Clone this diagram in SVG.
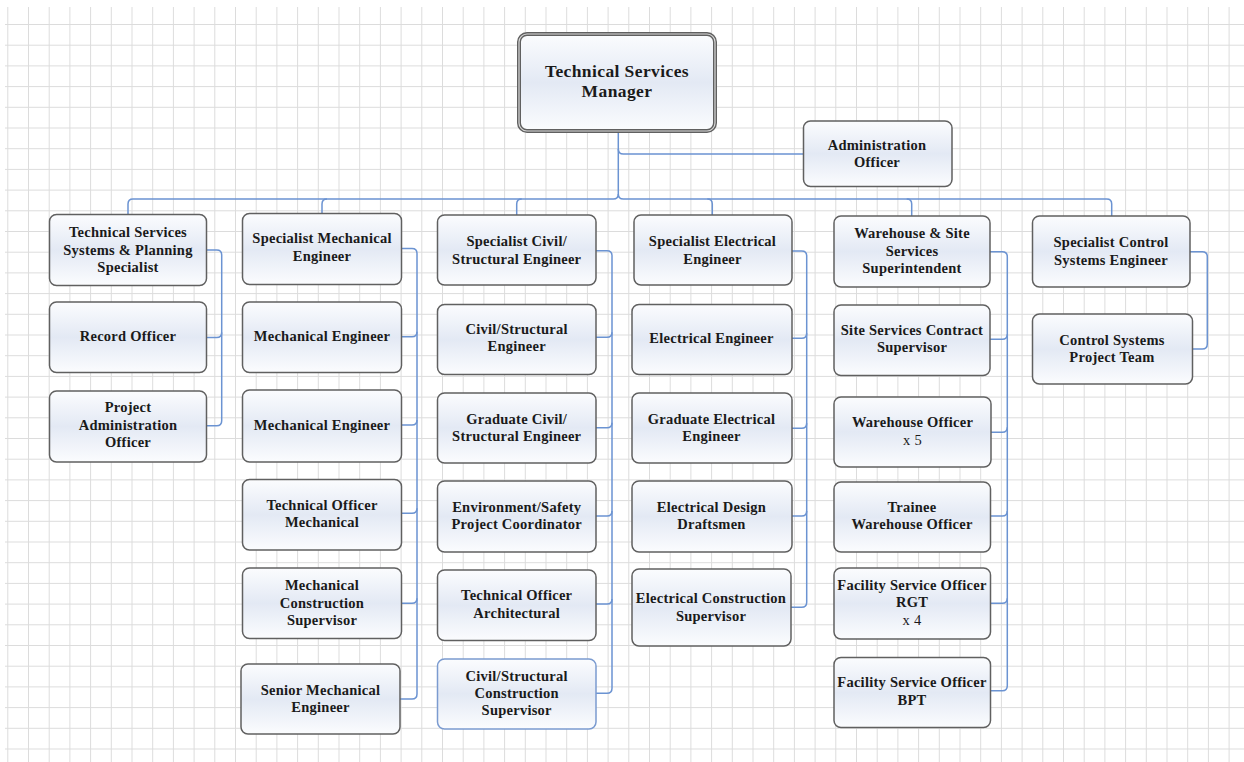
<svg xmlns="http://www.w3.org/2000/svg" width="1244" height="762" viewBox="0 0 1244 762">
<defs>
<pattern id="grid" patternUnits="userSpaceOnUse" x="7.3" y="24" width="20.7" height="20.7">
<path d="M0.5,0 V20.7 M0,0.5 H20.7" stroke="#dcdcdc" stroke-width="1" fill="none"/>
</pattern>
<linearGradient id="g" x1="0" y1="0" x2="0" y2="1">
<stop offset="0" stop-color="#fbfcfe"/>
<stop offset="0.5" stop-color="#e3e9f4"/>
<stop offset="1" stop-color="#fbfcfe"/>
</linearGradient>
<style>
.box{fill:url(#g);stroke:#606060;stroke-width:1.5}
.blue{stroke:#7b9bd0}
.c{fill:none;stroke:#6b93d2;stroke-width:1.5}
.t{font-family:"Liberation Serif","Times New Roman",serif;font-weight:bold;font-size:14.5px;letter-spacing:0.25px;text-anchor:middle;fill:#1a1a1a}
.n{font-weight:normal}
.big{font-size:17.5px;letter-spacing:0.4px}
</style>
</defs>
<rect x="0" y="0" width="1244" height="762" fill="#ffffff"/>
<rect x="5" y="7" width="1239" height="755" fill="url(#grid)"/>

<g id="connectors">
<path class="c" d="M618.3,132 V194 Q618.3,199 613.3,199 H133 Q128,199 128,204 V214.5"/>
<path class="c" d="M618.3,194 Q618.3,199 623.3,199 H1106.7 Q1111.7,199 1111.7,204 V216"/>
<path class="c" d="M327,199 Q322,199 322,204 V213.5"/>
<path class="c" d="M521.7,199 Q516.7,199 516.7,204 V215"/>
<path class="c" d="M707.3,199 Q712.3,199 712.3,204 V215"/>
<path class="c" d="M906.7,199 Q911.7,199 911.7,204 V216"/>
<path class="c" d="M618.3,149 Q618.3,154 623.3,154 H803.5"/>

<path class="c" d="M206.5,250 H216.7 Q221.7,250 221.7,255 V420.7 Q221.7,425.7 216.7,425.7 H206.5"/>
<path class="c" d="M221.7,332.5 Q221.7,337.5 216.7,337.5 H206.5"/>

<path class="c" d="M401.5,248.5 H412 Q417,248.5 417,253.5 V694 Q417,699 412,699 H400"/>
<path class="c" d="M417,331.7 Q417,336.7 412,336.7 H401.5"/>
<path class="c" d="M417,420 Q417,425 412,425 H401.5"/>
<path class="c" d="M417,508.3 Q417,513.3 412,513.3 H401.5"/>
<path class="c" d="M417,598.3 Q417,603.3 412,603.3 H401.5"/>

<path class="c" d="M596,250.7 H607 Q612,250.7 612,255.7 V688.3 Q612,693.3 607,693.3 H596"/>
<path class="c" d="M612,332.3 Q612,337.3 607,337.3 H596"/>
<path class="c" d="M612,422.7 Q612,427.7 607,427.7 H596"/>
<path class="c" d="M612,511 Q612,516 607,516 H596"/>
<path class="c" d="M612,599 Q612,604 607,604 H596"/>

<path class="c" d="M792,251 H801.7 Q806.7,251 806.7,256 V602.3 Q806.7,607.3 801.7,607.3 H791"/>
<path class="c" d="M806.7,333.3 Q806.7,338.3 801.7,338.3 H792"/>
<path class="c" d="M806.7,423.3 Q806.7,428.3 801.7,428.3 H792"/>
<path class="c" d="M806.7,511 Q806.7,516 801.7,516 H792"/>

<path class="c" d="M990,251.7 H1002.3 Q1007.3,251.7 1007.3,256.7 V685.7 Q1007.3,690.7 1002.3,690.7 H990.5"/>
<path class="c" d="M1007.3,334.3 Q1007.3,339.3 1002.3,339.3 H990"/>
<path class="c" d="M1007.3,427.3 Q1007.3,432.3 1002.3,432.3 H991"/>
<path class="c" d="M1007.3,511 Q1007.3,516 1002.3,516 H990.5"/>
<path class="c" d="M1007.3,598.3 Q1007.3,603.3 1002.3,603.3 H990.5"/>

<path class="c" d="M1190,251.7 H1202.3 Q1207.3,251.7 1207.3,256.7 V344 Q1207.3,349 1202.3,349 H1192.5"/>
</g>

<g id="manager">
<rect x="519" y="34" width="196" height="97" rx="8" fill="url(#g)" stroke="#606060" stroke-width="4"/>
<rect x="519" y="34" width="196" height="97" rx="8" fill="none" stroke="#d8d8d8" stroke-width="1.2"/>
<text class="t big" x="617" y="77.3">Technical Services</text>
<text class="t big" x="617" y="97.3">Manager</text>
</g>
<g id="admin">
<rect class="box" x="803.5" y="121" width="148.5" height="65.5" rx="7"/>
<text class="t" x="877" y="150">Administration</text>
<text class="t" x="877" y="167">Officer</text>
</g>

<g id="tssps">
<rect class="box" x="49.5" y="214.5" width="157" height="71" rx="7"/>
<text class="t" x="128" y="236.8">Technical Services</text>
<text class="t" x="128" y="254.5">Systems &amp; Planning</text>
<text class="t" x="128" y="271.8">Specialist</text>
</g>
<g id="record">
<rect class="box" x="49.5" y="302" width="157" height="70.5" rx="7"/>
<text class="t" x="128" y="341.2">Record Officer</text>
</g>
<g id="pao">
<rect class="box" x="49.5" y="391" width="157" height="71" rx="7"/>
<text class="t" x="128" y="412.2">Project</text>
<text class="t" x="128" y="430.2">Administration</text>
<text class="t" x="128" y="447.2">Officer</text>
</g>

<g id="sme">
<rect class="box" x="242.5" y="213.5" width="159" height="71" rx="7"/>
<text class="t" x="322" y="243.2">Specialist Mechanical</text>
<text class="t" x="322" y="261.2">Engineer</text>
</g>
<g id="me1">
<rect class="box" x="242.5" y="302" width="159" height="70.5" rx="7"/>
<text class="t" x="322" y="341.2">Mechanical Engineer</text>
</g>
<g id="me2">
<rect class="box" x="242.5" y="390" width="159" height="72" rx="7"/>
<text class="t" x="322" y="429.5">Mechanical Engineer</text>
</g>
<g id="tom">
<rect class="box" x="242.5" y="479.5" width="159" height="70.5" rx="7"/>
<text class="t" x="322" y="509.5">Technical Officer</text>
<text class="t" x="322" y="526.8">Mechanical</text>
</g>
<g id="mcs">
<rect class="box" x="242.5" y="568" width="159" height="70.5" rx="7"/>
<text class="t" x="322" y="590.2">Mechanical</text>
<text class="t" x="322" y="607.8">Construction</text>
<text class="t" x="322" y="625.2">Supervisor</text>
</g>
<g id="senme">
<rect class="box" x="241" y="664" width="159" height="70" rx="7"/>
<text class="t" x="320.5" y="694.5">Senior Mechanical</text>
<text class="t" x="320.5" y="712.2">Engineer</text>
</g>

<g id="scse">
<rect class="box" x="437.5" y="215" width="158.5" height="70" rx="7"/>
<text class="t" x="516.7" y="245.5">Specialist Civil/</text>
<text class="t" x="516.7" y="263.5">Structural Engineer</text>
</g>
<g id="cse">
<rect class="box" x="437.5" y="304.5" width="158.5" height="70" rx="7"/>
<text class="t" x="516.7" y="333.8">Civil/Structural</text>
<text class="t" x="516.7" y="351.2">Engineer</text>
</g>
<g id="gcse">
<rect class="box" x="437.5" y="393" width="158.5" height="70" rx="7"/>
<text class="t" x="516.7" y="423.5">Graduate Civil/</text>
<text class="t" x="516.7" y="440.5">Structural Engineer</text>
</g>
<g id="espc">
<rect class="box" x="437.5" y="481" width="158.5" height="71" rx="7"/>
<text class="t" x="516.7" y="511.8">Environment/Safety</text>
<text class="t" x="516.7" y="528.8">Project Coordinator</text>
</g>
<g id="toa">
<rect class="box" x="437.5" y="570" width="158.5" height="70.5" rx="7"/>
<text class="t" x="516.7" y="600.2">Technical Officer</text>
<text class="t" x="516.7" y="617.8">Architectural</text>
</g>
<g id="cscs">
<rect class="box blue" x="437.5" y="659" width="158.5" height="70" rx="7"/>
<text class="t" x="516.7" y="680.5">Civil/Structural</text>
<text class="t" x="516.7" y="697.8">Construction</text>
<text class="t" x="516.7" y="715.2">Supervisor</text>
</g>

<g id="see">
<rect class="box" x="634" y="215" width="158" height="70" rx="7"/>
<text class="t" x="712.5" y="245.5">Specialist Electrical</text>
<text class="t" x="712.5" y="263.5">Engineer</text>
</g>
<g id="ee">
<rect class="box" x="632" y="304.5" width="160" height="70" rx="7"/>
<text class="t" x="711.5" y="342.8">Electrical Engineer</text>
</g>
<g id="gee">
<rect class="box" x="632" y="393" width="160" height="70" rx="7"/>
<text class="t" x="711.5" y="423.5">Graduate Electrical</text>
<text class="t" x="711.5" y="440.8">Engineer</text>
</g>
<g id="edd">
<rect class="box" x="632" y="481" width="160" height="71" rx="7"/>
<text class="t" x="711.5" y="511.8">Electrical Design</text>
<text class="t" x="711.5" y="528.8">Draftsmen</text>
</g>
<g id="ecs">
<rect class="box" x="632" y="569" width="159" height="77" rx="7"/>
<text class="t" x="711" y="602.8">Electrical Construction</text>
<text class="t" x="711" y="620.5">Supervisor</text>
</g>

<g id="wsss">
<rect class="box" x="834" y="216" width="156" height="71" rx="7"/>
<text class="t" x="912" y="237.8">Warehouse &amp; Site</text>
<text class="t" x="912" y="255.5">Services</text>
<text class="t" x="912" y="272.8">Superintendent</text>
</g>
<g id="sscs">
<rect class="box" x="834" y="305" width="156" height="70.5" rx="7"/>
<text class="t" x="912" y="335.2">Site Services Contract</text>
<text class="t" x="912" y="352.2">Supervisor</text>
</g>
<g id="wo">
<rect class="box" x="834" y="397" width="157" height="70" rx="7"/>
<text class="t" x="912.5" y="427.2">Warehouse Officer</text>
<text class="t n" x="912.5" y="444.5">x 5</text>
</g>
<g id="two">
<rect class="box" x="834" y="482" width="156.5" height="70" rx="7"/>
<text class="t" x="912" y="511.8">Trainee</text>
<text class="t" x="912" y="528.8">Warehouse Officer</text>
</g>
<g id="fsorgt">
<rect class="box" x="834" y="568" width="156.5" height="71" rx="7"/>
<text class="t" x="912" y="590.2">Facility Service Officer</text>
<text class="t" x="912" y="607.2">RGT</text>
<text class="t n" x="912" y="625.2">x 4</text>
</g>
<g id="fsobpt">
<rect class="box" x="834" y="657.5" width="156.5" height="70" rx="7"/>
<text class="t" x="912" y="687.2">Facility Service Officer</text>
<text class="t" x="912" y="704.5">BPT</text>
</g>

<g id="scse2">
<rect class="box" x="1032.5" y="216" width="157.5" height="71" rx="7"/>
<text class="t" x="1111" y="246.8">Specialist Control</text>
<text class="t" x="1111" y="264.5">Systems Engineer</text>
</g>
<g id="cspt">
<rect class="box" x="1032.5" y="314" width="160" height="70" rx="7"/>
<text class="t" x="1112" y="345.2">Control Systems</text>
<text class="t" x="1112" y="362.2">Project Team</text>
</g>
</svg>
